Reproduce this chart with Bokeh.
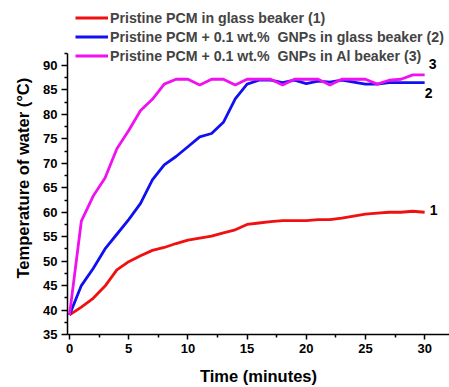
import math
from bokeh.plotting import figure
from bokeh.models import Range1d, FixedTicker, Legend, LegendItem, Title
from bokeh.core.properties import value
from bokeh.embed import file_html
from bokeh.resources import INLINE

# --- data ---
time_min = list(range(0, 31))
pcm_glass = [39.0, 40.6, 42.4, 44.9, 48.2, 49.9, 51.1, 52.2, 52.8, 53.6, 54.3,
             54.7, 55.1, 55.8, 56.4, 57.5, 57.8, 58.1, 58.3, 58.3, 58.3,
             58.5, 58.5, 58.8, 59.2, 59.6, 59.8, 60.0, 60.0, 60.2, 60.0]
gnp_glass = [39.0, 45.0, 48.5, 52.5, 55.5, 58.5, 61.8, 66.6, 69.7, 71.4, 73.4,
             75.4, 76.1, 78.4, 83.2, 86.2, 87.0, 87.0, 86.5, 87.0, 86.3,
             86.8, 86.6, 87.0, 86.6, 86.2, 86.2, 86.5, 86.5, 86.5, 86.5]
gnp_al = [39.0, 58.2, 63.3, 67.0, 73.0, 76.7, 80.8, 83.1, 86.2, 87.2, 87.2,
          86.0, 87.2, 87.2, 86.0, 87.2, 87.2, 87.2, 86.0, 87.2, 87.2,
          87.2, 86.0, 87.2, 87.2, 87.2, 86.2, 87.0, 87.2, 88.1, 88.1]
series_names = ["Pristine PCM in glass beaker (1)",
                "Pristine PCM + 0.1 wt.%\u00a0 GNPs in glass beaker (2)",
                "Pristine PCM + 0.1 wt.%\u00a0 GNPs in Al beaker (3)"]
series_tags = ["1", "2", "3"]
x_ticks = [0, 5, 10, 15, 20, 25, 30]
x_minor = [2.5, 7.5, 12.5, 17.5, 22.5, 27.5]
y_ticks = [35, 40, 45, 50, 55, 60, 65, 70, 75, 80, 85, 90]
y_minor = [37.5, 42.5, 47.5, 52.5, 57.5, 62.5, 67.5, 72.5, 77.5, 82.5, 87.5, 92.5]
y_title = "Temperature of water (\u00b0C)"
x_title = "Time (minutes)"

FONT = "Liberation Sans"
colors = ["#f01010", "#1010f0", "#f010f0"]

p = figure(width=449, height=387, x_range=Range1d(-0.17, 32.1), y_range=Range1d(35, 103.3),
           output_backend="svg", toolbar_location=None,
           min_border_left=67, min_border_right=0, min_border_top=0, min_border_bottom=48)
p.grid.visible = False
p.outline_line_color = None
p.background_fill_color = "white"

items = []
all_series = [pcm_glass, gnp_glass, gnp_al]
for ys, c, name in zip(all_series, colors, series_names):
    r = p.line(time_min, ys, line_color=c, line_width=2.8)
    items.append(LegendItem(label=name, renderers=[r]))

# end-of-curve tags
tag_dx = [9, 4, 8]
tag_dy = [-2, 10, -11]
for ys, tag, dx, dy in zip(all_series, series_tags, tag_dx, tag_dy):
    p.text(x=[time_min[-1]], y=[ys[-1]], text=[tag], x_offset=dx, y_offset=dy,
           text_font=value(FONT), text_font_style="bold", text_font_size="14px",
           text_align="center", text_baseline="middle", text_color="black")

legend = Legend(items=items, location="top_left", margin=8, padding=0, spacing=0,
                glyph_width=33, glyph_height=19, label_height=19, label_standoff=2,
                label_text_font=FONT, label_text_font_style="bold", label_text_font_size="14.2px",
                background_fill_alpha=0, border_line_alpha=0)
p.add_layout(legend)

for ax in (p.xaxis[0], p.yaxis[0]):
    ax.axis_line_width = 1.5
    ax.axis_line_color = "black"
    ax.major_tick_line_width = 1.5
    ax.minor_tick_line_width = 1.5
    ax.major_tick_in = 0
    ax.minor_tick_in = 0
    ax.minor_tick_out = 3
    ax.major_label_text_font = FONT
    ax.major_label_text_font_style = "bold"
    ax.major_label_text_font_size = "13px"
    ax.major_label_text_color = "black"
    ax.major_label_standoff = 4
    ax.axis_label_text_font = FONT
    ax.axis_label_text_font_style = "bold"
    ax.axis_label_text_font_size = "16.5px"
    ax.axis_label_text_color = "black"

p.xaxis.major_tick_out = 5
p.yaxis.major_tick_out = 6
p.xaxis.ticker = FixedTicker(ticks=x_ticks, minor_ticks=x_minor)
p.yaxis.ticker = FixedTicker(ticks=y_ticks, minor_ticks=y_minor)
p.yaxis.bounds = (35, 92.5)
p.xaxis.axis_label = x_title
p.xaxis.axis_label_standoff = 11

ytitle = Title(text=y_title, align="left", offset=56, standoff=18,
               text_font=FONT, text_font_style="bold", text_font_size="16.5px",
               text_color="black")
p.add_layout(ytitle, "left")

open("out.html", "w").write(file_html(p, INLINE))
